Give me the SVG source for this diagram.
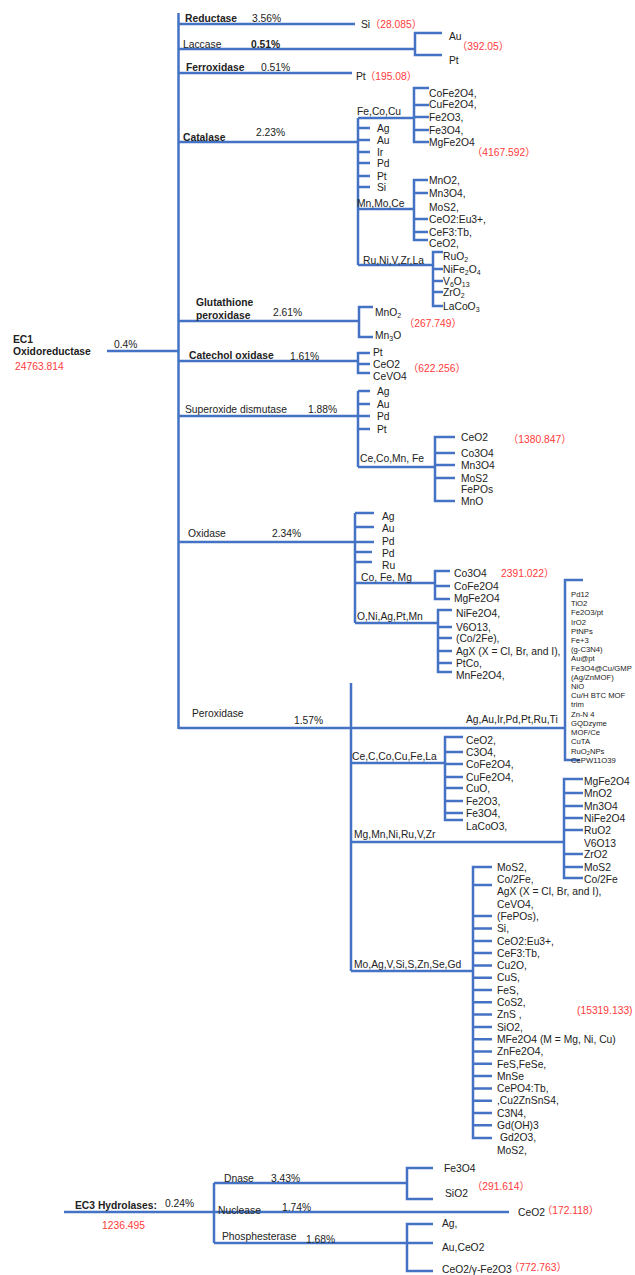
<svg xmlns="http://www.w3.org/2000/svg" width="635" height="1275" viewBox="0 0 635 1275">
<style>
.t{font-family:"Liberation Sans",Arial,sans-serif;font-size:10.3px;fill:#222}
.b{font-weight:bold}
.r{font-family:"Liberation Sans","Noto Sans CJK SC",sans-serif;fill:#ff3b3b}
.s{font-size:7.7px}
.c{fill:none;stroke:#4472c4;stroke-width:2.5}
</style>
<rect width="635" height="1275" fill="#fff"/>
<g id="connectors" class="c">
<path d="M178.5,13V729"/>
<path d="M107,351H178.5"/>
<path d="M178.5,24H355"/>
<path d="M178.5,49H415M442,33H415V55H442"/>
<path d="M178.5,73H352"/>
<path d="M178.5,142H358M358,118V265M358,118H414M429,88H414V142H429M414,105H429M414,117H429M414,130H429"/>
<path d="M358,128H370M358,140H370M358,152H370M358,163H370M358,176H370M358,187H370"/>
<path d="M358,209H414M428,180H414V240H428M414,193H428M414,219H428M414,232H428"/>
<path d="M358,265H433M443,252H433V306H443M433,269H443M433,281H443M433,292H443"/>
<path d="M178.5,321H359M373,307H359V337H373"/>
<path d="M178.5,361H358M370,353H358V373H370M358,364H370"/>
<path d="M178.5,416H370M358,391V467M358,391H370M358,404H370M358,429H370"/>
<path d="M358,467H435M455,437H435V501H455M435,453H455M435,465H455M435,478H455"/>
<path d="M178.5,542H374M355,513V623M355,513H374M355,527H374M355,552H372M355,562H372"/>
<path d="M355,583H435M450,571H435V599H450M435,586H450"/>
<path d="M355,623H438M452,610H438V672H452M438,627H452M438,638H452M438,651H452M438,663H452"/>
<path d="M178.5,728H565M583,580H565V760H580"/>
<path d="M351,683V971"/>
<path d="M351,763H445M463,737H445V820H463M445,752H463M445,764H463M445,777H463M445,788H463M445,801H463M445,813H463"/>
<path d="M351,842H564M583,779H564V878H583M564,793H583M564,806H583M564,818H583M564,830H583M564,854H583M564,867H583"/>
<path d="M351,971H473M492,867H473V1138H492M473,885H492M473,916H492M473,928.5H492M473,941H492M473,953H492M473,965.4H492M473,977.7H492M473,990H492M473,1002.3H492M473,1014.6H492M473,1026.9H492M473,1039.2H492M473,1051.5H492M473,1063.8H492M473,1076.1H492M473,1088.4H492M473,1100.7H492M473,1113H492M473,1125.3H492"/>
<path d="M64,1212H509M214,1183V1243M214,1183H407M433,1168H407V1199H433"/>
<path d="M214,1243H433M433,1224H407V1271H433"/>
</g>
<g id="ec1">
<text class="t b" x="13" y="343">EC1</text>
<text class="t b" x="13" y="355">Oxidoreductase</text>
<text class="t r" x="15" y="370">24763.814</text>
<text class="t" x="114" y="348">0.4%</text>
</g>
<g id="reductase">
<text class="t b" x="185" y="22">Reductase</text>
<text class="t" x="252" y="22">3.56%</text>
<text class="t" x="361" y="28">Si</text>
<text class="t r" x="370" y="28">（28.085）</text>
</g>
<g id="laccase">
<text class="t" x="183" y="48">Laccase</text>
<text class="t b" x="251" y="48">0.51%</text>
<text class="t" x="449" y="40">Au</text>
<text class="t" x="449" y="64">Pt</text>
<text class="t r" x="457" y="50">（392.05）</text>
</g>
<g id="ferroxidase">
<text class="t b" x="186" y="71">Ferroxidase</text>
<text class="t" x="261" y="71">0.51%</text>
<text class="t" x="356" y="80">Pt</text>
<text class="t r" x="365" y="80">（195.08）</text>
</g>
<g id="catalase">
<text class="t b" x="183" y="141">Catalase</text>
<text class="t" x="256" y="136">2.23%</text>
<text class="t" x="357" y="115">Fe,Co,Cu</text>
<text class="t" x="377" y="132">Ag</text>
<text class="t" x="377" y="144">Au</text>
<text class="t" x="377" y="156">Ir</text>
<text class="t" x="377" y="167">Pd</text>
<text class="t" x="377" y="180">Pt</text>
<text class="t" x="377" y="191">Si</text>
<text class="t" x="429" y="97">CoFe2O4,</text>
<text class="t" x="429" y="108">CuFe2O4,</text>
<text class="t" x="429" y="121">Fe2O3,</text>
<text class="t" x="429" y="134">Fe3O4,</text>
<text class="t" x="429" y="146">MgFe2O4</text>
<text class="t r" x="472" y="156">（4167.592）</text>
<text class="t" x="357" y="207">Mn,Mo,Ce</text>
<text class="t" x="429" y="184">MnO2,</text>
<text class="t" x="429" y="197">Mn3O4,</text>
<text class="t" x="429" y="211">MoS2,</text>
<text class="t" x="429" y="223">CeO2:Eu3+,</text>
<text class="t" x="429" y="236">CeF3:Tb,</text>
<text class="t" x="429" y="247">CeO2,</text>
<text class="t" x="363" y="264">Ru,Ni,V,Zr,La</text>
<text class="t" x="443" y="260">RuO<tspan font-size="7" dy="2">2</tspan></text>
<text class="t" x="443" y="273">NiFe<tspan font-size="7" dy="2">2</tspan><tspan dy="-2">O</tspan><tspan font-size="7" dy="2">4</tspan></text>
<text class="t" x="443" y="285">V<tspan font-size="7" dy="2">6</tspan><tspan dy="-2">O</tspan><tspan font-size="7" dy="2">13</tspan></text>
<text class="t" x="443" y="296">ZrO<tspan font-size="7" dy="2">2</tspan></text>
<text class="t" x="443" y="310">LaCoO<tspan font-size="7" dy="2">3</tspan></text>
</g>
<g id="glutathione-peroxidase">
<text class="t b" x="196" y="306">Glutathione</text>
<text class="t b" x="196" y="319">peroxidase</text>
<text class="t" x="273" y="316">2.61%</text>
<text class="t" x="375" y="316">MnO<tspan font-size="7" dy="2">2</tspan></text>
<text class="t" x="375" y="339">Mn<tspan font-size="7" dy="2">3</tspan><tspan dy="-2">O</tspan></text>
<text class="t r" x="404" y="327">（267.749）</text>
</g>
<g id="catechol-oxidase">
<text class="t b" x="189" y="359">Catechol oxidase</text>
<text class="t" x="290" y="360">1.61%</text>
<text class="t" x="373" y="356">Pt</text>
<text class="t" x="373" y="368">CeO2</text>
<text class="t" x="373" y="380">CeVO4</text>
<text class="t r" x="408" y="372">（622.256）</text>
</g>
<g id="superoxide-dismutase">
<text class="t" x="185" y="413">Superoxide dismutase</text>
<text class="t" x="308" y="413">1.88%</text>
<text class="t" x="377" y="395">Ag</text>
<text class="t" x="377" y="408">Au</text>
<text class="t" x="377" y="420">Pd</text>
<text class="t" x="377" y="433">Pt</text>
<text class="t" x="360" y="462">Ce,Co,Mn, Fe</text>
<text class="t" x="461" y="441">CeO2</text>
<text class="t" x="461" y="457">Co3O4</text>
<text class="t" x="461" y="469">Mn3O4</text>
<text class="t" x="461" y="482">MoS2</text>
<text class="t" x="461" y="493">FePOs</text>
<text class="t" x="461" y="505">MnO</text>
<text class="t r" x="508" y="443">（1380.847）</text>
</g>
<g id="oxidase">
<text class="t" x="188" y="537">Oxidase</text>
<text class="t" x="272" y="537">2.34%</text>
<text class="t" x="382" y="520">Ag</text>
<text class="t" x="382" y="532">Au</text>
<text class="t" x="382" y="545">Pd</text>
<text class="t" x="382" y="557">Pd</text>
<text class="t" x="382" y="569">Ru</text>
<text class="t" x="361" y="581">Co, Fe, Mg</text>
<text class="t" x="454" y="577">Co3O4</text>
<text class="t" x="454" y="590">CoFe2O4</text>
<text class="t" x="454" y="602">MgFe2O4</text>
<text class="t r" x="501" y="577">2391.022）</text>
<text class="t" x="357" y="620">O,Ni,Ag,Pt,Mn</text>
<text class="t" x="456" y="617">NiFe2O4,</text>
<text class="t" x="456" y="631">V6O13,</text>
<text class="t" x="456" y="642">(Co/2Fe),</text>
<text class="t" x="456" y="655">AgX (X = Cl, Br, and I),</text>
<text class="t" x="456" y="667">PtCo,</text>
<text class="t" x="456" y="679">MnFe2O4,</text>
</g>
<g id="peroxidase">
<text class="t" x="192" y="717">Peroxidase</text>
<text class="t" x="294" y="724">1.57%</text>
<text class="t" x="466" y="723">Ag,Au,Ir,Pd,Pt,Ru,Ti</text>
<text class="t s" x="571" y="597">Pd12</text>
<text class="t s" x="571" y="606">TiO2</text>
<text class="t s" x="571" y="615">Fe2O3/pt</text>
<text class="t s" x="571" y="624.5">IrO2</text>
<text class="t s" x="571" y="633.7">PtNPs</text>
<text class="t s" x="571" y="642.9">Fe+3</text>
<text class="t s" x="571" y="652.1">(g-C3N4)</text>
<text class="t s" x="571" y="661.3">Au@pt</text>
<text class="t s" x="571" y="670.6">Fe3O4@Cu/GMP</text>
<text class="t s" x="571" y="679.8">(Ag/ZnMOF)</text>
<text class="t s" x="571" y="689"> NiO</text>
<text class="t s" x="571" y="698.2">Cu/H BTC MOF</text>
<text class="t s" x="571" y="707.4">trim</text>
<text class="t s" x="571" y="716.7">Zn-N 4</text>
<text class="t s" x="571" y="725.9">GQDzyme</text>
<text class="t s" x="571" y="735.1">MOF/Ce</text>
<text class="t s" x="571" y="744.3">CuTA</text>
<text class="t s" x="571" y="753.5">RuO<tspan font-size="5.5" dy="1.5">2</tspan><tspan dy="-1.5">NPs</tspan></text>
<text class="t s" x="571" y="762.8">CePW11O39</text>
<text class="t" x="352" y="760">Ce,C,Co,Cu,Fe,La</text>
<text class="t" x="466" y="744">CeO2,</text>
<text class="t" x="466" y="756">C3O4,</text>
<text class="t" x="466" y="768">CoFe2O4,</text>
<text class="t" x="466" y="781">CuFe2O4,</text>
<text class="t" x="466" y="792">CuO,</text>
<text class="t" x="466" y="805">Fe2O3,</text>
<text class="t" x="466" y="817">Fe3O4,</text>
<text class="t" x="466" y="830">LaCoO3,</text>
<text class="t" x="354" y="838">Mg,Mn,Ni,Ru,V,Zr</text>
<text class="t" x="584" y="785">MgFe2O4</text>
<text class="t" x="584" y="797">MnO2</text>
<text class="t" x="584" y="810">Mn3O4</text>
<text class="t" x="584" y="822">NiFe2O4</text>
<text class="t" x="584" y="834">RuO2</text>
<text class="t" x="584" y="847">V6O13</text>
<text class="t" x="584" y="858">ZrO2</text>
<text class="t" x="584" y="871">MoS2</text>
<text class="t" x="584" y="883">Co/2Fe</text>
<text class="t" x="354" y="968">Mo,Ag,V,Si,S,Zn,Se,Gd</text>
<text class="t" x="497" y="870.7">MoS2,</text>
<text class="t" x="497" y="883">Co/2Fe,</text>
<text class="t" x="497" y="895.3">AgX (X = Cl, Br, and I),</text>
<text class="t" x="497" y="907.6">CeVO4,</text>
<text class="t" x="497" y="919.9">(FePOs),</text>
<text class="t" x="497" y="932.2">Si,</text>
<text class="t" x="497" y="944.5">CeO2:Eu3+,</text>
<text class="t" x="497" y="956.8">CeF3:Tb,</text>
<text class="t" x="497" y="969.1">Cu2O,</text>
<text class="t" x="497" y="981.4">CuS,</text>
<text class="t" x="497" y="993.7">FeS,</text>
<text class="t" x="497" y="1006">CoS2,</text>
<text class="t" x="497" y="1018.3">ZnS ,</text>
<text class="t" x="497" y="1030.6">SiO2,</text>
<text class="t" x="497" y="1042.9">MFe2O4 (M = Mg, Ni, Cu)</text>
<text class="t" x="497" y="1055.2">ZnFe2O4,</text>
<text class="t" x="497" y="1067.5">FeS,FeSe,</text>
<text class="t" x="497" y="1079.8">MnSe</text>
<text class="t" x="497" y="1092.1">CePO4:Tb,</text>
<text class="t" x="497" y="1104.4">,Cu2ZnSnS4,</text>
<text class="t" x="497" y="1116.7">C3N4,</text>
<text class="t" x="497" y="1129">Gd(OH)3</text>
<text class="t" x="500" y="1141.3">Gd2O3,</text>
<text class="t" x="497" y="1153.6">MoS2,</text>
<text class="t r" x="577" y="1014">(15319.133)</text>
</g>
<g id="ec3">
<text class="t b" x="75" y="1209">EC3 Hydrolases:</text>
<text class="t" x="165" y="1207">0.24%</text>
<text class="t r" x="102" y="1229">1236.495</text>
<text class="t" x="224" y="1182">Dnase</text>
<text class="t" x="271" y="1182">3.43%</text>
<text class="t" x="444" y="1172">Fe3O4</text>
<text class="t" x="445" y="1197">SiO2</text>
<text class="t r" x="472" y="1190">（291.614）</text>
<text class="t" x="218" y="1214">Nuclease</text>
<text class="t" x="282" y="1211">1.74%</text>
<text class="t" x="518" y="1216">CeO2</text>
<text class="t r" x="542" y="1214">（172.118）</text>
<text class="t" x="222" y="1240">Phosphesterase</text>
<text class="t" x="306" y="1243">1.68%</text>
<text class="t" x="442" y="1227">Ag,</text>
<text class="t" x="442" y="1251">Au,CeO2</text>
<text class="t" x="442" y="1273">CeO2/γ-Fe2O3</text>
<text class="t r" x="509" y="1271">（772.763）</text>
</g>
</svg>
